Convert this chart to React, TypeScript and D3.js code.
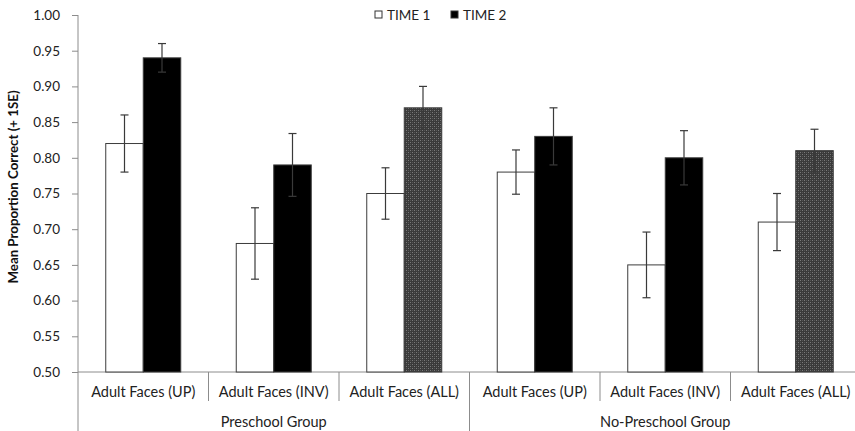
import React, { useEffect, useRef } from "react";
import * as d3 from "d3";

const groups = ["Preschool Group", "No-Preschool Group"];
const conditions = ["Adult Faces (UP)", "Adult Faces (INV)", "Adult Faces (ALL)"];
const series = ["TIME 1", "TIME 2"];
// values per group, per condition
const time1 = [0.82, 0.68, 0.75, 0.78, 0.65, 0.71];
const time2 = [0.94, 0.79, 0.87, 0.83, 0.80, 0.81];
const se1 = [0.04, 0.05, 0.036, 0.031, 0.046, 0.04];
const se2 = [0.02, 0.044, 0.03, 0.04, 0.038, 0.03];
const yTicks = [0.5, 0.55, 0.6, 0.65, 0.7, 0.75, 0.8, 0.85, 0.9, 0.95, 1.0];

const font = "Lato, 'Open Sans', sans-serif";

export default function App() {
  const ref = useRef<SVGSVGElement>(null);

  useEffect(() => {
    const svg = d3.select(ref.current);
    svg.selectAll("*").remove();

    const margin = { top: 15, left: 78, bottom: 372, right: 861 };

    const cats = groups.flatMap((g) => conditions.map((c) => g + "|" + c));

    const x = d3.scaleBand().domain(cats).range([margin.left, margin.right]);
    const xs = d3.scaleBand().domain(series).range([0, x.bandwidth()]).paddingInner(0).paddingOuter(0.74);
    const y = d3.scaleLinear().domain([0.5, 1.0]).range([margin.bottom, margin.top]);

    // checkered pattern for the ALL bars
    const defs = svg.append("defs");
    const pat = defs.append("pattern")
      .attr("id", "check")
      .attr("width", 4)
      .attr("height", 4)
      .attr("patternUnits", "userSpaceOnUse");
    pat.append("rect").attr("width", 4).attr("height", 4).attr("fill", "#3a3a3a");
    pat.append("rect").attr("width", 1).attr("height", 1).attr("x", 0).attr("y", 0).attr("fill", "#7a7a7a");
    pat.append("rect").attr("width", 1).attr("height", 1).attr("x", 2).attr("y", 2).attr("fill", "#7a7a7a");
    pat.append("rect").attr("width", 1).attr("height", 1).attr("x", 2).attr("y", 0).attr("fill", "#555");
    pat.append("rect").attr("width", 1).attr("height", 1).attr("x", 0).attr("y", 2).attr("fill", "#555");

    const axisColor = "#8c8c8c";

    // y axis
    const yAxis = svg.append("g")
      .attr("transform", `translate(${margin.left},0)`)
      .call(d3.axisLeft(y).tickValues(yTicks).tickFormat(d3.format(".2f")).tickSizeOuter(0).tickSize(6).tickPadding(12));
    yAxis.select(".domain").remove();
    yAxis.selectAll("line").attr("stroke", axisColor);
    yAxis.selectAll("text")
      .attr("font-family", font)
      .attr("font-size", 13.5)
      .attr("fill", "#222");
    svg.append("line")
      .attr("x1", margin.left).attr("x2", margin.left)
      .attr("y1", margin.top).attr("y2", 431)
      .attr("stroke", axisColor);

    // y title
    svg.append("text")
      .attr("transform", `translate(18,187) rotate(-90)`)
      .attr("text-anchor", "middle")
      .attr("font-family", font)
      .attr("font-weight", "bold")
      .attr("font-size", 13.3)
      .attr("fill", "#111")
      .text("Mean Proportion Correct (+ 1SE)");

    // x baseline
    svg.append("line")
      .attr("x1", margin.left).attr("x2", margin.right)
      .attr("y1", margin.bottom).attr("y2", margin.bottom)
      .attr("stroke", axisColor);

    // category separators and labels
    cats.forEach((c, i) => {
      const x0 = x(c)!;
      if (i > 0) {
        const isGroup = i % conditions.length === 0;
        svg.append("line")
          .attr("x1", x0).attr("x2", x0)
          .attr("y1", margin.bottom).attr("y2", isGroup ? 431 : 401)
          .attr("stroke", axisColor);
      }
      svg.append("text")
        .attr("x", x0 + x.bandwidth() / 2)
        .attr("y", 397)
        .attr("text-anchor", "middle")
        .attr("font-family", font)
        .attr("font-size", 14.5)
        .attr("fill", "#222")
        .text(c.split("|")[1]);
    });

    groups.forEach((g) => {
      const first = x(g + "|" + conditions[0])!;
      const last = x(g + "|" + conditions[conditions.length - 1])! + x.bandwidth();
      svg.append("text")
        .attr("x", (first + last) / 2)
        .attr("y", 427)
        .attr("text-anchor", "middle")
        .attr("font-family", font)
        .attr("font-size", 14.5)
        .attr("fill", "#222")
        .text(g);
    });

    // bars
    const data = cats.flatMap((c, i) => [
      { cat: c, s: series[0], v: time1[i], e: se1[i], fill: "#ffffff" },
      { cat: c, s: series[1], v: time2[i], e: se2[i], fill: c.endsWith("(ALL)") ? "url(#check)" : "#000000" },
    ]);

    svg.append("g")
      .selectAll("rect")
      .data(data)
      .join("rect")
      .attr("x", (d) => x(d.cat)! + xs(d.s)!)
      .attr("y", (d) => y(d.v))
      .attr("width", xs.bandwidth())
      .attr("height", (d) => y(0.5) - y(d.v))
      .attr("fill", (d) => d.fill)
      .attr("stroke", "#3c3c3c")
      .attr("stroke-width", 1);

    // error bars
    const eb = svg.append("g").attr("stroke", "#3a3a3a").attr("stroke-width", 1.2);
    data.forEach((d) => {
      const cx = x(d.cat)! + xs(d.s)! + xs.bandwidth() / 2;
      const top = y(d.v + d.e);
      const bot = y(d.v - d.e);
      eb.append("line").attr("x1", cx).attr("x2", cx).attr("y1", top).attr("y2", bot);
      eb.append("line").attr("x1", cx - 4).attr("x2", cx + 4).attr("y1", top).attr("y2", top);
      eb.append("line").attr("x1", cx - 4).attr("x2", cx + 4).attr("y1", bot).attr("y2", bot);
    });

    // legend
    const legend = svg.append("g").attr("font-family", font).attr("font-size", 13.5).attr("fill", "#222");
    const legendX = [375, 451];
    series.forEach((s, i) => {
      legend.append("rect")
        .attr("x", legendX[i]).attr("y", 11)
        .attr("width", 7).attr("height", 7)
        .attr("fill", i === 0 ? "#fff" : "#000")
        .attr("stroke", "#333");
      legend.append("text")
        .attr("x", legendX[i] + 12)
        .attr("y", 20)
        .text(s);
    });
  }, []);

  return <svg ref={ref} width={855} height={431} style={{ display: "block", position: "absolute", left: 0, top: 0 }} />;
}
